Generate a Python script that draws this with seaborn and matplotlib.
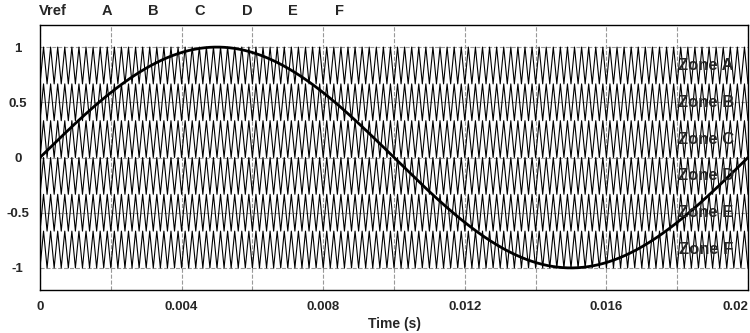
import numpy as np
import pandas as pd
import matplotlib
matplotlib.use("Agg")
import matplotlib.pyplot as plt
import seaborn as sns

# Data
f_ref = 50.0          # reference frequency (Hz)
f_carrier = 5000.0    # carrier frequency (Hz)
t_end = 0.02
carrier_names = ["A", "B", "C", "D", "E", "F"]
band_bottoms = [2/3, 1/3, 0.0, -1/3, -2/3, -1.0]
band_height = 1/3
zone_labels = ["Zone A", "Zone B", "Zone C", "Zone D", "Zone E", "Zone F"]
x_ticks = [0, 0.004, 0.008, 0.012, 0.016, 0.02]
x_tick_labels = ["0", "0.004", "0.008", "0.012", "0.016", "0.02"]
y_ticks = [-1, -0.5, 0, 0.5, 1]
y_tick_labels = ["-1", "-0.5", "0", "0.5", "1"]

t = np.linspace(0, t_end, 8001)
vref = np.sin(2 * np.pi * f_ref * t)
tri = 1 - np.abs(2 * ((t * f_carrier) % 1.0) - 1)  # 0..1 triangle

frames = [pd.DataFrame({"t": t, "v": vref, "series": "Vref"})]
for name, b in zip(carrier_names, band_bottoms):
    frames.append(pd.DataFrame({"t": t, "v": b + band_height * tri, "series": name}))
df = pd.concat(frames, ignore_index=True)

sns.set_style("white")
plt.rcParams["font.family"] = ["Liberation Sans", "DejaVu Sans"]

fig = plt.figure(figsize=(7.5, 3.33), dpi=100)
ax = fig.add_axes([40/750, 1 - 290/333, 708/750, 265/333])

carr = df[df.series != "Vref"]
sns.lineplot(data=carr, x="t", y="v", units="series", estimator=None,
             color="black", lw=0.8, ax=ax, legend=False, sort=False)
sns.lineplot(data=df[df.series == "Vref"], x="t", y="v", color="black",
             lw=2.0, ax=ax, legend=False, sort=False)

ax.set_xlim(0, 0.02)
ax.set_ylim(-1.2, 1.2)
ax.set_xticks(x_ticks)
ax.set_xticklabels(x_tick_labels, fontweight="bold", fontsize=9.5)
ax.set_yticks(y_ticks)
ax.set_yticklabels(y_tick_labels, fontweight="bold", fontsize=9.5)
for lbl in ax.get_yticklabels():
    lbl.set_horizontalalignment("center")
xl = ax.get_xticklabels()
xl[-1].set_horizontalalignment("right")
xl[-1].set_x(0.02)
ax.set_xticks(np.arange(0.002, 0.02, 0.002), minor=True)
ax.tick_params(axis="x", which="both", length=0, pad=8)
ax.tick_params(axis="y", which="both", length=0, pad=16)
ax.grid(True, which="both", axis="x", ls="--", color="#999999", lw=0.8)
ax.grid(True, which="major", axis="y", ls="--", color="#999999", lw=0.8)
ax.set_axisbelow(True)
ax.set_xlabel("Time (s)", fontweight="bold", fontsize=10, labelpad=3)
ax.set_ylabel("")
for s in ax.spines.values():
    s.set_color("black")
    s.set_linewidth(1.0)

# legend-like labels at top
legend_names = ["Vref"] + carrier_names
legend_x = [53, 107, 153, 200, 247, 293, 340]
for name, px in zip(legend_names, legend_x):
    fig.text(px/750, 1 - 11/333, name, ha="center", va="center",
             fontweight="bold", fontsize=10.5)

# zone labels
for lab, b in zip(zone_labels, band_bottoms):
    ax.text(0.0196, b + band_height/2, lab, ha="right", va="center",
            fontweight="bold", fontsize=12)

fig.savefig("out.png", dpi=100)
